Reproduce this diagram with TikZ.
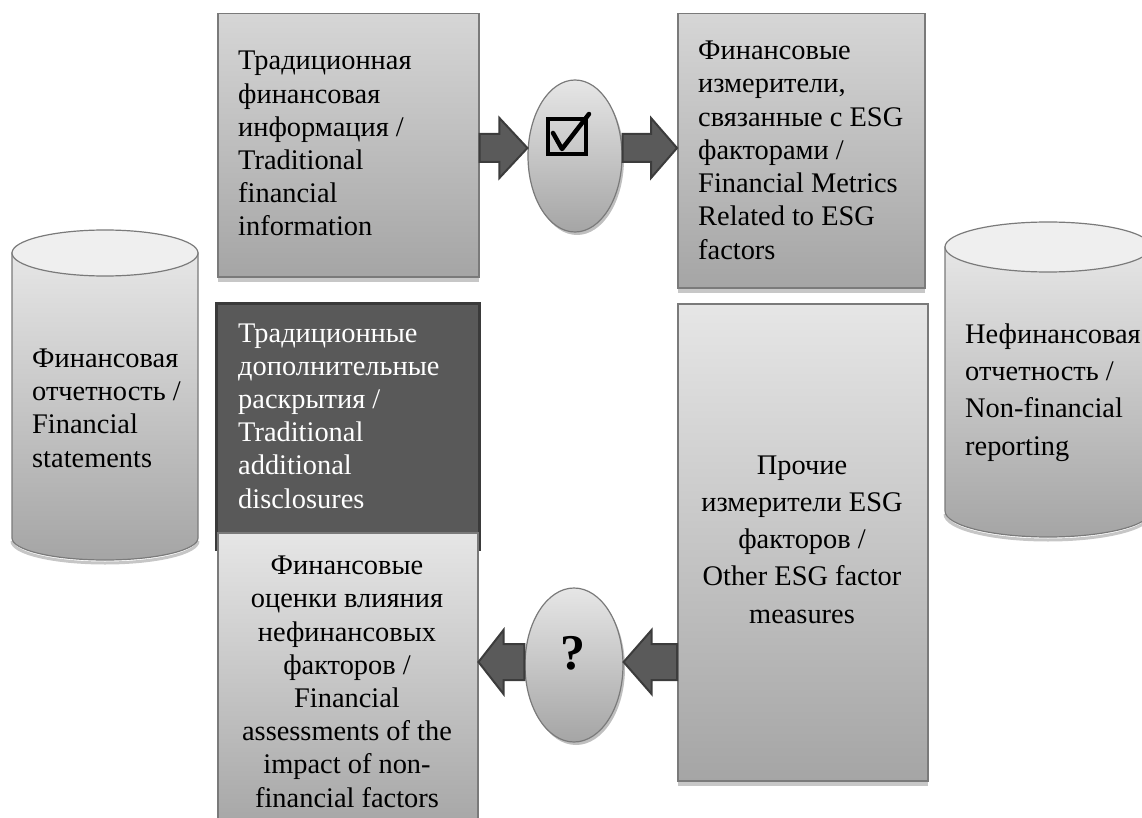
\documentclass[tikz,border=0pt]{standalone}
\usepackage{fontspec}
\setmainfont{Liberation Serif}
\usetikzlibrary{calc,shapes.geometric,shadows}
\definecolor{arrfill}{HTML}{5A5A5A}
\definecolor{arrdraw}{HTML}{3C3C3C}
\definecolor{boxdraw}{HTML}{7A7A7A}
\definecolor{darkfill}{HTML}{595959}
\definecolor{darkdraw}{HTML}{3A3A3A}
\definecolor{gtopA}{HTML}{D6D6D6}
\definecolor{gtopE}{HTML}{E6E6E6}
\definecolor{gbot}{HTML}{A5A5A5}
\definecolor{cyltop}{HTML}{EFEFEF}
\tikzset{
  txt/.style={inner sep=0pt, font=\fontsize{28.4}{33.2}\selectfont, text=black},
  txtwide/.style={inner sep=0pt, font=\fontsize{28.4}{37.2}\selectfont, text=black},
  gbox/.style={rectangle, draw=boxdraw, line width=1.5pt, top color=#1, bottom color=gbot,
    inner sep=0pt, anchor=north west,
    drop shadow={shadow xshift=0pt, shadow yshift=-5pt, opacity=0.22, fill=black}},
  darkbox/.style={rectangle, draw=darkdraw, line width=3pt, fill=darkfill, inner sep=0pt, anchor=north west},
  oval/.style={ellipse, draw=boxdraw, line width=1.2pt, top color=gtopE, bottom color=gbot, inner sep=0pt,
    drop shadow={shadow xshift=2pt, shadow yshift=-3pt, opacity=0.25, fill=black}},
  cylbody/.style={top color=gtopE, bottom color=gbot, draw=boxdraw, line width=1.2pt},
  fatarr/.style={fill=arrfill, draw=arrdraw, line width=2pt, line join=miter},
}
\newcommand{\fatarrow}[5]{%
  \path[fatarr] let \p1=(#1), \p2=(#2), \n1={sign(\x2-\x1)} in
   (\x1,\y2+#3) -- (\x2-\n1*#5,\y2+#3) -- (\x2-\n1*#5,\y2+#4) -- (\x2,\y2)
   -- (\x2-\n1*#5,\y2-#4) -- (\x2-\n1*#5,\y2-#3) -- (\x1,\y2-#3) -- cycle;}
\begin{document}
\begin{tikzpicture}[x=1pt,y=-1pt]
\useasboundingbox (0,0) rectangle (1142,818);
\clip (0,0) rectangle (1142,818);

% left cylinder
\draw[gray!45, line width=3pt] (12,541) arc (180:360:93pt and 22pt);
\path[cylbody] (12,253) -- (12,538) arc (180:360:93pt and 22pt) -- (198,253) -- cycle;
\draw[fill=cyltop, draw=boxdraw, line width=1.2pt] (105,253) ellipse (93pt and 23pt);
\node[txt, anchor=base west, align=left] (tL) at (32,467)
  {Финансовая\\отчетность /\\Financial\\statements};

% right cylinder
\draw[gray!45, line width=3pt] (945,514) arc (180:360:103pt and 26pt);
\path[cylbody] (945,247) -- (945,511) arc (180:360:103pt and 26pt) -- (1151,247) -- cycle;
\draw[fill=cyltop, draw=boxdraw, line width=1.2pt] (1048,247) ellipse (103pt and 25pt);
\node[txtwide, anchor=base west, align=left] (tR) at (965,455)
  {Нефинансовая\\отчетность /\\Non-financial\\reporting};

% top boxes
\node[gbox=gtopA, minimum width=261pt, minimum height=263pt] (A) at (217,13) {};
\node[txt, anchor=base west, align=left] (tA) at (238,236)
  {Традиционная\\финансовая\\информация /\\Traditional\\financial\\information};
\node[gbox=gtopA, minimum width=247pt, minimum height=274pt] (B) at (677,13) {};
\node[txt, anchor=base west, align=left] (tB) at (698,259)
  {Финансовые\\измерители,\\связанные с ESG\\факторами /\\Financial Metrics\\Related to ESG\\factors};

% dark box and box below it
\node[darkbox, minimum width=263pt, minimum height=246pt] (C) at (215,302) {};
\node[txt, anchor=base west, align=left, text=white] (tC) at (238,508)
  {Традиционные\\дополнительные\\раскрытия /\\Traditional\\additional\\disclosures};
\node[gbox=gtopE, minimum width=260pt, minimum height=300pt] (D) at (217,532) {};
\node[txt, anchor=base, align=center] (tD) at (347,807)
  {Финансовые\\оценки влияния\\нефинансовых\\факторов /\\Financial\\assessments of the\\impact of non-\\financial factors};

% right tall box
\node[gbox=gtopE, minimum width=250pt, minimum height=477pt] (E) at (677,303) {};
\node[txtwide, anchor=base, align=center] (tE) at (802,623)
  {Прочие\\измерители ESG\\факторов /\\Other ESG factor\\measures};

% ovals
\node[oval, minimum width=94pt, minimum height=152pt] (E1) at (575,156) {};
\node[oval, minimum width=98pt, minimum height=154pt] (E2) at (574,665) {};

% check box symbol
\draw[line width=3.5pt, line join=miter] (548,119) rectangle (586,154);
\draw[line width=4.5pt, line cap=round, line join=round] (553,133) -- (562,149) -- (589,114);
\node[inner sep=0pt, font=\fontsize{50}{50}\selectfont\bfseries] (q) at ($(E2)+(-1,-12)$) {?};

% arrows
\coordinate (row1) at (0,148);
\coordinate (row2) at (0,662);
\fatarrow{A.east}{E1.west |- row1}{14pt}{30pt}{28pt}
\fatarrow{E1.east}{B.west |- row1}{14pt}{30pt}{26pt}
\fatarrow{E2.west}{D.east |- row2}{18pt}{32pt}{25pt}
\fatarrow{E.west}{E2.east |- row2}{18pt}{32pt}{28pt}
\end{tikzpicture}
\end{document}
